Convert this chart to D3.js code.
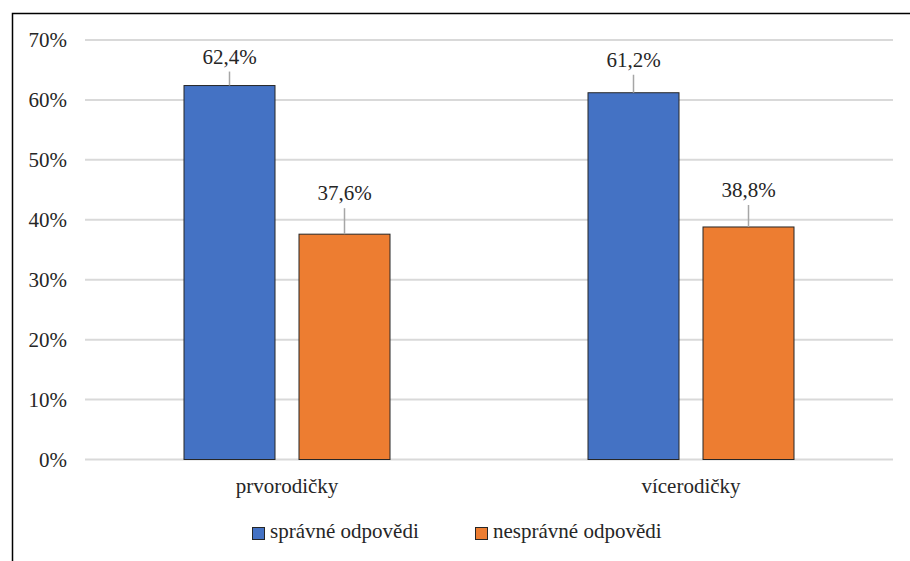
<!DOCTYPE html>
<html>
<head>
<meta charset="utf-8">
<script src="https://cdn.jsdelivr.net/npm/d3@7"></script>
</head>
<body style="margin:0">
<svg id="chart" width="910" height="561"></svg>
<script>
// data
var categories = ["prvorodičky", "vícerodičky"];
var series = ["správné odpovědi", "nesprávné odpovědi"];
var colors = ["#4472c4", "#ed7d31"];
var values = [
    [62.4, 37.6],   // prvorodičky
    [61.2, 38.8]    // vícerodičky
];
var yTicks = [0, 10, 20, 30, 40, 50, 60, 70];

// how far each callout sits above its bar (layout, not data)
var labelLift = [[22, 34], [26, 30]];

var svg = d3.select("#chart");
var textColor = "#262626";

function label(sel) {
    return sel.style("font-family", "'Times New Roman', 'Liberation Serif', serif")
        .style("font-size", "21px")
        .attr("fill", textColor);
}

// outer frame, cut off at right and bottom like the source
svg.append("path")
    .attr("d", "M12.5,600 V13.5 H920")
    .attr("fill", "none")
    .attr("stroke", "#000")
    .attr("stroke-width", 1.5);

var x0 = d3.scaleBand().domain(categories).range([85, 893]);
var x1 = d3.scaleBand().domain(series).range([0, 206]).paddingInner(24 / 115);
var y = d3.scaleLinear().domain([0, 70]).range([459.5, 40]);

var fmt = function (v) { return d3.format(".1f")(v).replace(".", ",") + "%"; };

// gridlines
svg.append("g").selectAll("line")
    .data(yTicks)
    .join("line")
    .attr("x1", 85).attr("x2", 893)
    .attr("y1", function (d) { return y(d); })
    .attr("y2", function (d) { return y(d); })
    .attr("stroke", "#d9d9d9")
    .attr("stroke-width", 2);

// y labels
svg.append("g").selectAll("text")
    .data(yTicks)
    .join("text")
    .attr("x", 67)
    .attr("y", function (d) { return y(d) + 7; })
    .attr("text-anchor", "end")
    .call(label)
    .text(function (d) { return d + "%"; });

// bars
var groups = svg.append("g").selectAll("g")
    .data(categories)
    .join("g")
    .attr("transform", function (c) {
        return "translate(" + (x0(c) + (x0.bandwidth() - 206) / 2) + ",0)";
    });

groups.each(function (c, ci) {
    var g = d3.select(this);
    series.forEach(function (s, si) {
        var v = values[ci][si];
        var bx = x1(s), bw = x1.bandwidth();
        g.append("rect")
            .attr("x", bx)
            .attr("y", y(v))
            .attr("width", bw)
            .attr("height", y(0) - y(v))
            .attr("fill", colors[si])
            .attr("stroke", textColor)
            .attr("stroke-width", 1);

        var lift = labelLift[ci][si];
        var cx = bx + bw / 2;
        g.append("line")
            .attr("x1", cx).attr("x2", cx)
            .attr("y1", y(v))
            .attr("y2", y(v) - lift + 8)
            .attr("stroke", "#a6a6a6")
            .attr("stroke-width", 1.5);
        g.append("text")
            .attr("x", cx)
            .attr("y", y(v) - lift)
            .attr("text-anchor", "middle")
            .call(label)
            .text(fmt(v));
    });
});

// category labels
svg.append("g").selectAll("text")
    .data(categories)
    .join("text")
    .attr("x", function (c) { return x0(c) + x0.bandwidth() / 2; })
    .attr("y", 493)
    .attr("text-anchor", "middle")
    .call(label)
    .text(function (c) { return c; });

// legend
var legendX = [252, 475];
var legend = svg.append("g").selectAll("g")
    .data(series)
    .join("g")
    .attr("transform", function (d, i) { return "translate(" + legendX[i] + ",527)"; });

legend.append("rect")
    .attr("x", 0.5).attr("y", 0.5)
    .attr("width", 12).attr("height", 12)
    .attr("fill", function (d, i) { return colors[i]; })
    .attr("stroke", textColor)
    .attr("stroke-width", 1);

legend.append("text")
    .attr("x", 18)
    .attr("y", 11)
    .call(label)
    .text(function (d) { return d; });
</script>
</body>
</html>
